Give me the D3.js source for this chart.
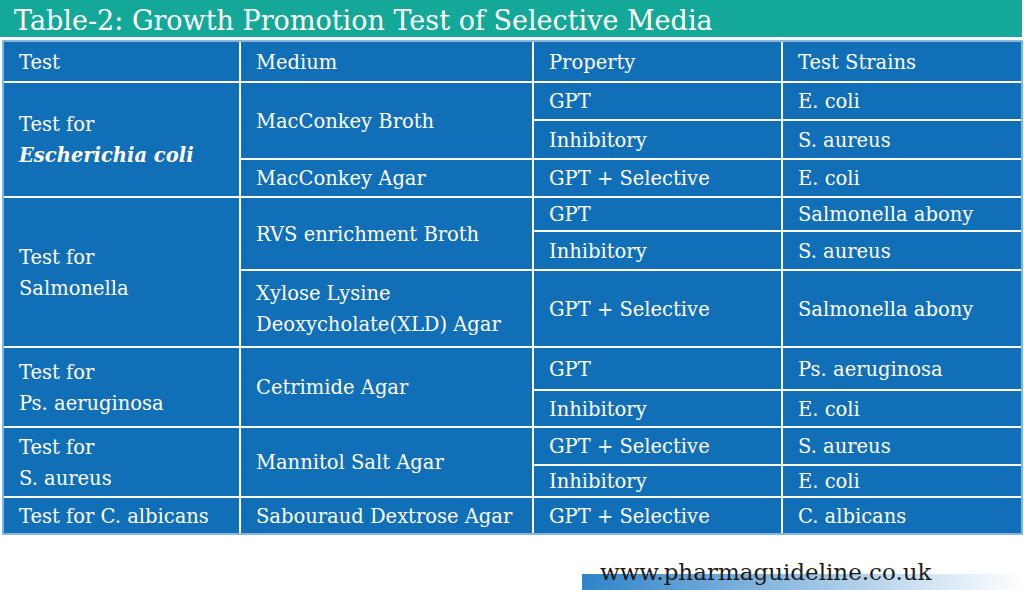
<!DOCTYPE html>
<html><head><meta charset="utf-8">
<script src="https://cdn.jsdelivr.net/npm/d3@7"></script>
<style>body{margin:0;background:#fff}svg{display:block}text{font-family:"DejaVu Serif",serif}</style>
</head><body>
<svg id="c" width="1024" height="590"></svg>
<script>
const title = "Table-2: Growth Promotion Test of Selective Media";
const headers = ["Test", "Medium", "Property", "Test Strains"];
// [first sub-row, last sub-row, lines]
const tests = [
  [1, 3, ["Test for", "*Escherichia coli"]],
  [4, 6, ["Test for", "Salmonella"]],
  [7, 8, ["Test for", "Ps. aeruginosa"]],
  [9, 10, ["Test for", "S. aureus"]],
  [11, 11, ["Test for C. albicans"]]
];
const media = [
  [1, 2, ["MacConkey Broth"]],
  [3, 3, ["MacConkey Agar"]],
  [4, 5, ["RVS enrichment Broth"]],
  [6, 6, ["Xylose Lysine", "Deoxycholate(XLD) Agar"]],
  [7, 8, ["Cetrimide Agar"]],
  [9, 10, ["Mannitol Salt Agar"]],
  [11, 11, ["Sabouraud Dextrose Agar"]]
];
const properties = ["GPT", "Inhibitory", "GPT + Selective", "GPT", "Inhibitory", "GPT + Selective",
  "GPT", "Inhibitory", "GPT + Selective", "Inhibitory", "GPT + Selective"];
const strains = ["E. coli", "S. aureus", "E. coli", "Salmonella abony", "S. aureus", "Salmonella abony",
  "Ps. aeruginosa", "E. coli", "S. aureus", "E. coli", "C. albicans"];
const footer = "www.pharmaguideline.co.uk";

const svg = d3.select("#c");
const colX = [3, 240, 533, 782, 1022];
const rowY = [41, 82, 120, 159, 197, 231, 270, 347, 390, 427, 465, 497, 534];
const blue = "#116fb7";

// title bar
svg.append("rect").attr("x", 0).attr("y", 0).attr("width", 1022).attr("height", 37).attr("fill", "#14a899");
svg.append("text").attr("x", 14).attr("y", 30).attr("font-size", 27).attr("fill", "#fff").text(title);

const cells = [];
headers.forEach((h, i) => cells.push({c: i, r0: 0, r1: 0, lines: [h]}));
tests.forEach(d => cells.push({c: 0, r0: d[0], r1: d[1], lines: d[2]}));
media.forEach(d => cells.push({c: 1, r0: d[0], r1: d[1], lines: d[2]}));
properties.forEach((p, i) => cells.push({c: 2, r0: i + 1, r1: i + 1, lines: [p]}));
strains.forEach((s, i) => cells.push({c: 3, r0: i + 1, r1: i + 1, lines: [s]}));

const g = svg.selectAll("g.cell").data(cells).join("g").attr("class", "cell");
g.append("rect")
  .attr("x", d => colX[d.c] + 1).attr("y", d => rowY[d.r0] + 1)
  .attr("width", d => colX[d.c + 1] - colX[d.c] - 2)
  .attr("height", d => rowY[d.r1 + 1] - rowY[d.r0] - 2)
  .attr("fill", blue);
svg.append("rect").attr("x", colX[0]).attr("y", rowY[0]).attr("width", colX[4] - colX[0])
  .attr("height", rowY[12] - rowY[0]).attr("fill", "none").attr("stroke", blue).attr("stroke-width", 1);
g.each(function(d) {
  const cy = (rowY[d.r0] + rowY[d.r1 + 1]) / 2;
  const lh = 31;
  const y0 = cy - (d.lines.length - 1) * lh / 2 + 7;
  d.lines.forEach((l, i) => {
    const it = l.startsWith("*");
    d3.select(this).append("text")
      .attr("x", colX[d.c] + 16).attr("y", y0 + i * lh)
      .attr("font-size", 19.5).attr("fill", "#fff")
      .attr("font-style", it ? "italic" : null).attr("font-weight", it ? "bold" : null)
      .text(it ? l.slice(1) : l);
  });
});

// footer
const grad = svg.append("defs").append("linearGradient").attr("id", "fg");
grad.append("stop").attr("offset", 0).attr("stop-color", "#2f83c8");
grad.append("stop").attr("offset", 1).attr("stop-color", "#fff");
svg.append("rect").attr("x", 582).attr("y", 574).attr("width", 442).attr("height", 16).attr("fill", "url(#fg)");
svg.append("text").attr("x", 600).attr("y", 580).attr("font-size", 23).attr("fill", "#1a1a1a").text(footer);
</script>
</body></html>
